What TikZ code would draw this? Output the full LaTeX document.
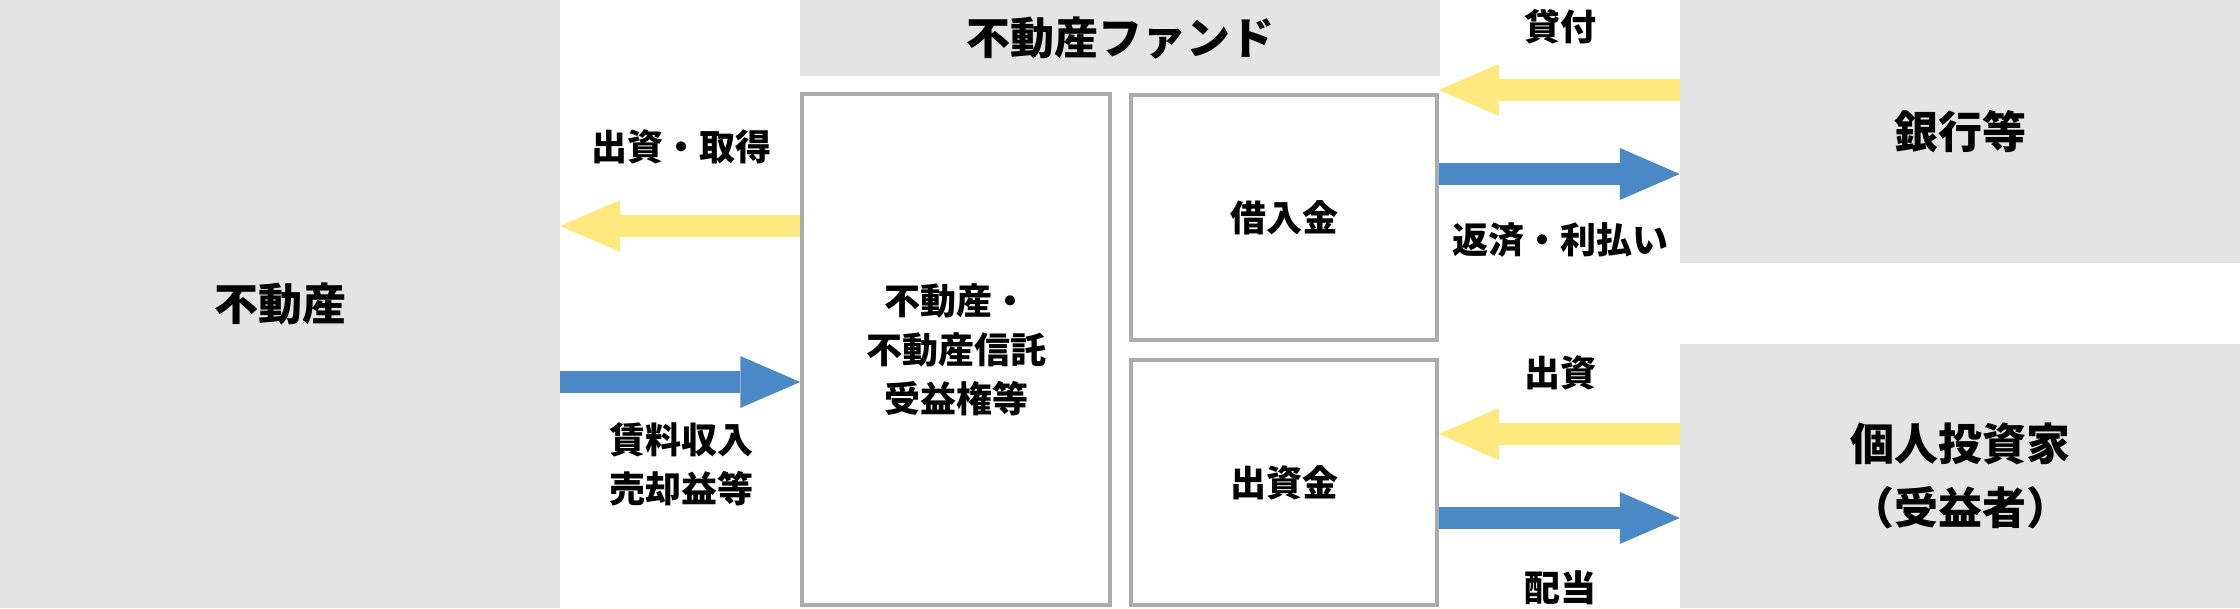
\documentclass[tikz,border=0pt]{standalone}
\usepackage{fontspec}
\setmainfont{Noto Sans CJK JP}
\usetikzlibrary{arrows.meta}
\definecolor{panel}{HTML}{E4E4E4}
\definecolor{ylw}{HTML}{FFE97F}
\definecolor{blu}{HTML}{4A89C5}
\definecolor{edge}{HTML}{ABABAB}
\begin{document}
\begin{tikzpicture}[x=1pt,y=-1pt,
  panelbox/.style={rectangle, fill=panel, inner sep=0pt, align=center, font=\fontsize{44}{64}\selectfont\bfseries},
  fundbox/.style={rectangle, draw=edge, line width=3.5pt, inner sep=0pt, align=center, font=\fontsize{36}{49}\selectfont\bfseries},
  lbl/.style={inner sep=0pt, align=center, font=\fontsize{36}{49}\selectfont\bfseries},
  flow/.style={line width=22pt, -{Triangle[length=60pt, width=52pt, line width=0pt]}},
  give/.style={flow, draw=ylw},
  pay/.style={flow, draw=blu}]
\useasboundingbox (0,0) rectangle (2240,608);
\node[panelbox, minimum width=560pt, minimum height=608pt] (land) at (280,304) {不動産};
\node[panelbox, minimum width=560pt, minimum height=263pt] (bank) at (1960,131.5) {銀行等};
\node[panelbox, minimum width=560pt, minimum height=264pt] (inv) at (1960,476) {個人投資家\\（受益者）};
\node[panelbox, minimum width=640pt, minimum height=76pt] (fund) at (1120,38) {不動産ファンド};
\node[fundbox, minimum width=308pt, minimum height=511pt] (asset) at (956,349.5) {不動産・\\不動産信託\\受益権等};
\node[fundbox, minimum width=306pt, minimum height=245pt] (loan) at (1284,217.5) {借入金};
\node[fundbox, minimum width=306pt, minimum height=245pt] (equity) at (1284,482.5) {出資金};
\draw[give] (asset.west |- 0,226) -- (land.east |- 0,226);
\draw[pay] (land.east |- 0,382) -- (asset.west |- 0,382);
\draw[give] (bank.west |- 0,90) -- (loan.east |- 0,90);
\draw[pay] (loan.east |- 0,174) -- (bank.west |- 0,174);
\draw[give] (inv.west |- 0,434) -- (equity.east |- 0,434);
\draw[pay] (equity.east |- 0,518) -- (inv.west |- 0,518);
\node[lbl] (l1) at (681,147) {出資・取得};
\node[lbl] (l2) at (681,464) {賃料収入\\売却益等};
\node[lbl] (l3) at (1560,27) {貸付};
\node[lbl] (l4) at (1560,240) {返済・利払い};
\node[lbl] (l5) at (1560,373) {出資};
\node[lbl] (l6) at (1560,588) {配当};
\end{tikzpicture}
\end{document}
